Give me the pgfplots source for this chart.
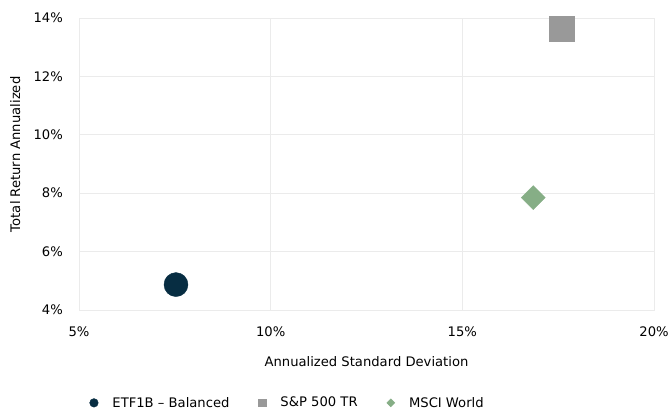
\documentclass[border=0pt]{standalone}
\usepackage{pgfplots}
\pgfplotsset{compat=1.18}
\usepackage{fontspec}
\setmainfont{DejaVu Sans}
\definecolor{navy}{HTML}{072D42}
\definecolor{sgray}{HTML}{999999}
\definecolor{sgreen}{HTML}{86AE86}
\definecolor{gridc}{HTML}{EBEBEB}
\begin{document}
\begin{tikzpicture}
\path[use as bounding box] (-79bp,-100bp) rectangle (590bp,310bp);
\begin{axis}[
  at={(0,0)}, anchor=south west,
  scale only axis, width=575bp, height=292bp,
  xmin=5, xmax=20, ymin=4, ymax=14,
  xtick={5,10,15,20}, ytick={4,6,8,10,12,14},
  xticklabel={\pgfmathprintnumber{\tick}\%},
  yticklabel={\pgfmathprintnumber{\tick}\%},
  /pgf/number format/assume math mode=true,
  major tick length=0pt,
  grid=major, major grid style={gridc, line width=0.8bp},
  axis line style={gridc, line width=0.8bp},
  tick label style={font=\fontsize{13.2}{15}\selectfont, black, inner sep=0pt},
  xticklabel style={anchor=center, yshift=-22bp},
  yticklabel style={anchor=east, xshift=-16bp},
  xlabel={Annualized Standard Deviation},
  ylabel={Total Return Annualized},
  xlabel style={font=\fontsize{13.2}{15}\selectfont, at={(axis description cs:0.5,-0.178)}, anchor=center},
  ylabel style={font=\fontsize{13.2}{15}\selectfont, at={(axis description cs:-0.111,0.533)}, anchor=center, rotate=0},
  legend columns=3,
  legend style={draw=none, at={(axis description cs:0.361,-0.318)}, anchor=center, font=\fontsize{13.2}{15}\selectfont,
    nodes={inner sep=0pt},
    /tikz/every odd column/.append style={column sep=14bp},
    /tikz/every even column/.append style={column sep=29bp}},
]
\addplot[only marks, mark=*, mark size=12bp, color=navy,
  legend image code/.code={\fill[navy] (0,0) circle (4.3bp);}]
  coordinates {(7.53,4.87)};
\addlegendentry{ETF1B -- Balanced}
\addplot[only marks, mark=square*, mark size=12.5bp, color=sgray,
  legend image code/.code={\fill[sgray] (-3.8bp,-3.8bp) rectangle (3.8bp,3.8bp);}]
  coordinates {(17.6,13.63)};
\addlegendentry{S\&P 500 TR}
\addplot[only marks, mark=square*, mark size=8.5bp, mark options={rotate=45}, color=sgreen,
  legend image code/.code={\fill[sgreen] (0,4bp) -- (4bp,0) -- (0,-4bp) -- (-4bp,0) -- cycle;}]
  coordinates {(16.85,7.85)};
\addlegendentry{MSCI World}
\end{axis}
\end{tikzpicture}
\end{document}
